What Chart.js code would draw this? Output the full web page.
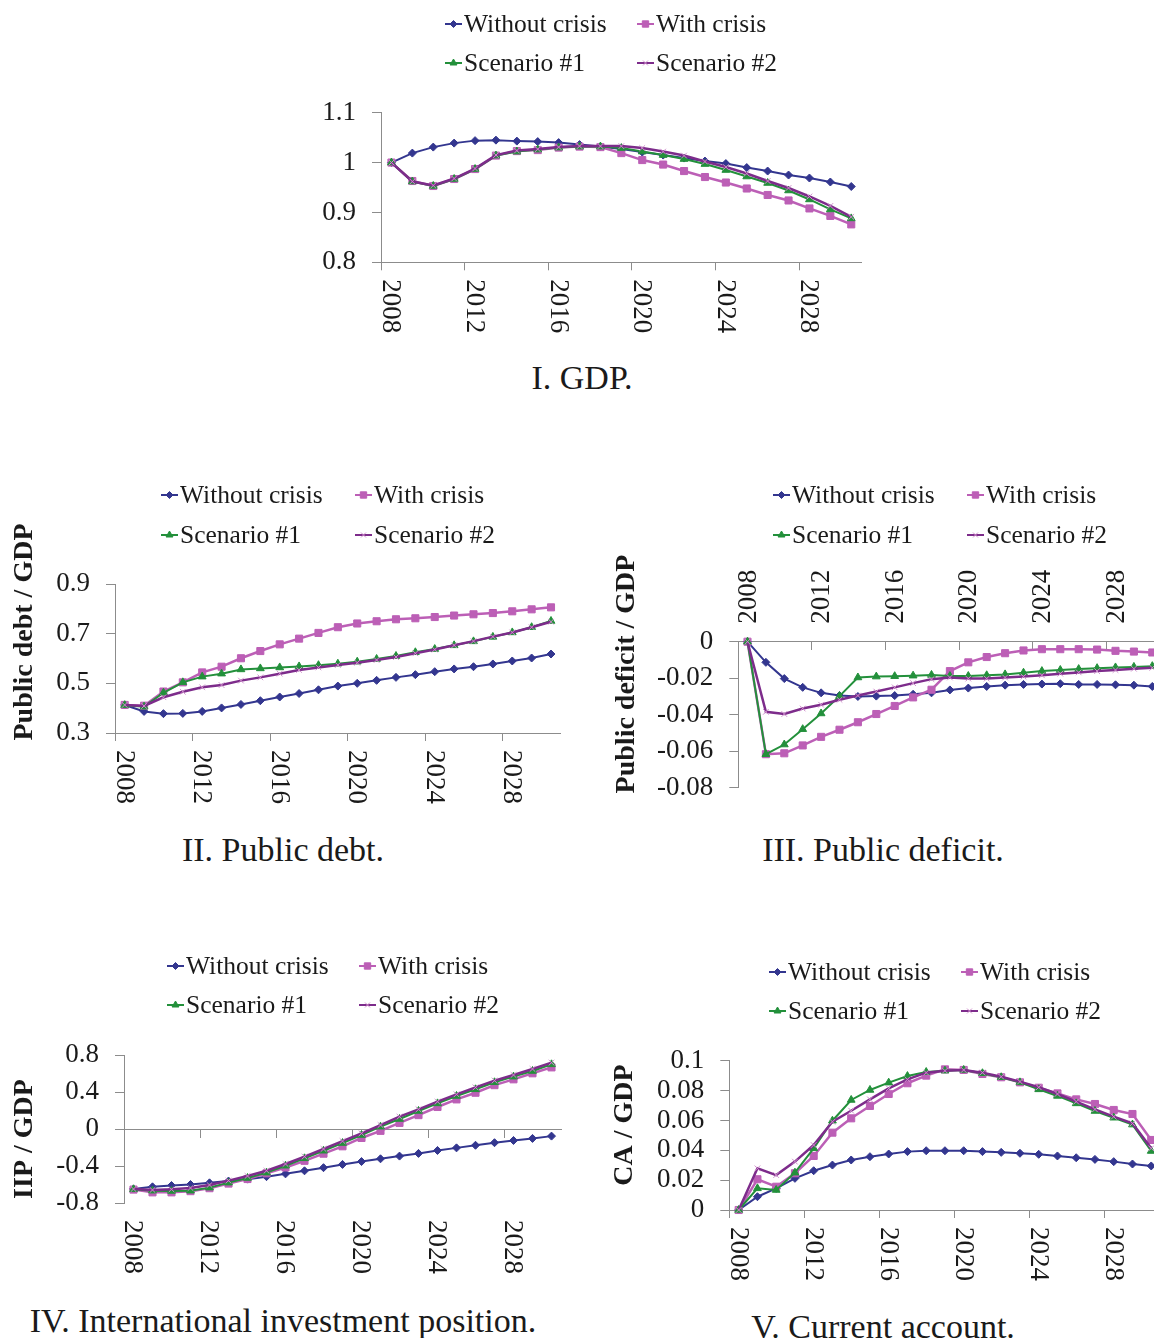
<!DOCTYPE html>
<html><head><meta charset="utf-8">
<script src="https://cdn.jsdelivr.net/npm/chart.js@4.4.1/dist/chart.umd.min.js"></script>
<style>
html,body{margin:0;padding:0;width:1154px;height:1338px;overflow:hidden;background:#fff;}
canvas{position:absolute;}
.ptitle{position:absolute;font-family:"Liberation Serif",serif;font-size:34px;color:#1a1a1a;white-space:nowrap;transform:translate(-50%,-50%);line-height:1;}
</style></head><body>
<div class="ptitle" style="left:582px;top:378px">I. GDP.</div>
<div class="ptitle" style="left:283px;top:850px">II. Public debt.</div>
<div class="ptitle" style="left:883px;top:850px">III. Public deficit.</div>
<div class="ptitle" style="left:283px;top:1321px">IV. International investment position.</div>
<div class="ptitle" style="left:883px;top:1327px">V. Current account.</div>
<canvas id="c1"></canvas><canvas id="c2"></canvas><canvas id="c3"></canvas><canvas id="c4"></canvas><canvas id="c5"></canvas>
<script>
// ---------- data ----------
const years = ['2008','2009','2010','2011','2012','2013','2014','2015','2016','2017','2018','2019','2020','2021','2022','2023','2024','2025','2026','2027','2028','2029','2030'];
const yearStep = 4;
const seriesNames = ['Without crisis','With crisis','Scenario #1','Scenario #2'];

const gdpWithout = [1.000,1.019,1.031,1.039,1.044,1.045,1.043,1.042,1.040,1.036,1.032,1.027,1.021,1.015,1.009,1.003,0.998,0.990,0.983,0.975,0.969,0.961,0.952];
const gdpWith    = [1.000,0.963,0.953,0.967,0.987,1.014,1.023,1.025,1.030,1.032,1.031,1.019,1.005,0.996,0.983,0.971,0.960,0.948,0.935,0.924,0.908,0.893,0.876];
const gdpScen1   = [1.000,0.962,0.953,0.967,0.987,1.014,1.022,1.026,1.030,1.032,1.032,1.029,1.022,1.015,1.007,0.997,0.985,0.972,0.959,0.944,0.926,0.906,0.888];
const gdpScen2   = [1.000,0.962,0.954,0.968,0.988,1.015,1.024,1.027,1.031,1.033,1.033,1.033,1.029,1.022,1.014,1.002,0.991,0.978,0.963,0.949,0.932,0.913,0.891];
const gdpTicks = [0.8,0.9,1,1.1];
const gdpTickLabels = ['0.8','0.9','1','1.1'];

const debtWithout = [0.413,0.387,0.378,0.379,0.387,0.401,0.415,0.430,0.445,0.459,0.474,0.489,0.500,0.512,0.524,0.535,0.547,0.558,0.567,0.578,0.590,0.602,0.618];
const debtWith    = [0.413,0.410,0.467,0.504,0.544,0.567,0.601,0.630,0.657,0.680,0.703,0.726,0.741,0.750,0.758,0.762,0.767,0.773,0.778,0.783,0.790,0.798,0.806];
const debtScen1   = [0.412,0.406,0.462,0.504,0.527,0.539,0.556,0.560,0.564,0.568,0.573,0.579,0.587,0.598,0.610,0.625,0.638,0.653,0.669,0.687,0.705,0.726,0.751];
const debtScen2   = [0.413,0.409,0.444,0.466,0.484,0.493,0.511,0.524,0.539,0.554,0.564,0.574,0.583,0.594,0.606,0.621,0.636,0.653,0.670,0.688,0.705,0.726,0.748];
const debtTicks = [0.3,0.5,0.7,0.9];
const debtTickLabels = ['0.3','0.5','0.7','0.9'];

const defWithout = [0,-0.0113,-0.0202,-0.0250,-0.0280,-0.0295,-0.0300,-0.0298,-0.0295,-0.0288,-0.0280,-0.0264,-0.0254,-0.0245,-0.0238,-0.0234,-0.0232,-0.0230,-0.0234,-0.0234,-0.0236,-0.0238,-0.0245];
const defWith    = [0,-0.0616,-0.0611,-0.0568,-0.0521,-0.0482,-0.0441,-0.0396,-0.0352,-0.0305,-0.0263,-0.0161,-0.0113,-0.0084,-0.0063,-0.0048,-0.0041,-0.0041,-0.0041,-0.0043,-0.0050,-0.0054,-0.0059];
const defScen1   = [0,-0.0616,-0.0563,-0.0479,-0.0393,-0.0298,-0.0196,-0.0191,-0.0189,-0.0186,-0.0182,-0.0188,-0.0188,-0.0184,-0.0179,-0.0170,-0.0161,-0.0155,-0.0150,-0.0145,-0.0141,-0.0138,-0.0134];
const defScen2   = [0,-0.0384,-0.0396,-0.0366,-0.0345,-0.0318,-0.0295,-0.0273,-0.0250,-0.0227,-0.0205,-0.0196,-0.0202,-0.0202,-0.0196,-0.0191,-0.0184,-0.0175,-0.0168,-0.0161,-0.0155,-0.0148,-0.0143];
const defTicks = [-0.08,-0.06,-0.04,-0.02,0];
const defTickLabels = ['-0.08','-0.06','-0.04','-0.02','0'];

const iipWithout = [-0.648,-0.625,-0.611,-0.600,-0.582,-0.563,-0.542,-0.515,-0.485,-0.452,-0.418,-0.383,-0.352,-0.322,-0.293,-0.264,-0.232,-0.204,-0.176,-0.148,-0.124,-0.102,-0.077];
const iipWith    = [-0.655,-0.685,-0.685,-0.672,-0.640,-0.590,-0.541,-0.479,-0.416,-0.344,-0.267,-0.187,-0.097,-0.020,0.066,0.150,0.238,0.320,0.392,0.474,0.537,0.602,0.666];
const iipScen1   = [-0.652,-0.667,-0.670,-0.667,-0.634,-0.580,-0.530,-0.472,-0.397,-0.317,-0.235,-0.152,-0.065,0.025,0.108,0.195,0.277,0.357,0.429,0.505,0.566,0.627,0.699];
const iipScen2   = [-0.649,-0.659,-0.652,-0.638,-0.605,-0.558,-0.508,-0.451,-0.378,-0.299,-0.216,-0.131,-0.047,0.043,0.133,0.213,0.295,0.375,0.450,0.523,0.584,0.649,0.717];
const iipTicks = [-0.8,-0.4,0,0.4,0.8];
const iipTickLabels = ['-0.8','-0.4','0','0.4','0.8'];

const caWithout = [0,0.0089,0.0145,0.0212,0.0263,0.0301,0.0335,0.0357,0.0375,0.0391,0.0397,0.0397,0.0397,0.0391,0.0386,0.0380,0.0373,0.0362,0.0350,0.0339,0.0324,0.0308,0.0295];
const caWith    = [0,0.0206,0.0156,0.0246,0.0362,0.0518,0.0614,0.0697,0.0777,0.0849,0.0900,0.0942,0.0938,0.0911,0.0889,0.0855,0.0819,0.0781,0.0741,0.0710,0.0670,0.0643,0.0469];
const caScen1   = [0,0.0145,0.0134,0.0250,0.0413,0.0598,0.0737,0.0804,0.0853,0.0897,0.0924,0.0933,0.0938,0.0916,0.0889,0.0855,0.0808,0.0764,0.0714,0.0663,0.0618,0.0572,0.0395];
const caScen2   = [0,0.0279,0.0234,0.0324,0.0435,0.0591,0.0665,0.0741,0.0815,0.0875,0.0920,0.0933,0.0938,0.0920,0.0893,0.0860,0.0822,0.0777,0.0726,0.0674,0.0625,0.0580,0.0413];
const caTicks = [0,0.02,0.04,0.06,0.08,0.1];
const caTickLabels = ['0','0.02','0.04','0.06','0.08','0.1'];

// ---------- styles ----------
const TEXT = '#1a1a1a';
const AXIS = '#8c8c8c';
const FONT = '"Liberation Serif", "Times New Roman", serif';
const styles = [
  {color:'#33368f', pointColor:'#33368f', pointStyle:'rectRot', radius:4, lw:2, legR:3.5},
  {color:'#bc5fb6', pointColor:'#bc5fb6', pointStyle:'rect', radius:5, lw:2.5, legR:4.5},
  {color:'#23903b', pointColor:'#23903b', pointStyle:'triangle', radius:4.5, lw:2, legR:4},
  {color:'#7d2c8b', pointColor:'#cf8fcc', pointStyle:'crossRot', radius:4, lw:2.5, legR:3.5}
];

// panel layout (page coordinates)
const panels = [
  {id:'c1', box:[300,0,600,350], area:[381,112.7,861.7,262.3], series:[gdpWithout,gdpWith,gdpScen1,gdpScen2],
   min:0.8, max:1.1, ticks:gdpTicks, tickLabels:gdpTickLabels, xAxis:'bottom', yTitle:null,
   legRows:[24,63], legCols:[445,637]},
  {id:'c2', box:[0,470,580,350], area:[115,584,560.7,733], series:[debtWithout,debtWith,debtScen1,debtScen2],
   min:0.3, max:0.9, ticks:debtTicks, tickLabels:debtTickLabels, xAxis:'bottom', yTitle:{text:'Public debt / GDP', x:25, y:632},
   legRows:[495,535], legCols:[161,355]},
  {id:'c3', box:[600,470,600,350], area:[738.3,641.7,1161.5,791], series:[defWithout,defWith,defScen1,defScen2],
   min:-0.08, max:0, ticks:defTicks, tickLabels:defTickLabels, xAxis:'zeroTop', yTitle:{text:'Public deficit / GDP', x:627, y:674},
   legRows:[495,535], legCols:[773,967]},
  {id:'c4', box:[0,940,580,350], area:[124,1055,561,1203], series:[iipWithout,iipWith,iipScen1,iipScen2],
   min:-0.8, max:0.8, ticks:iipTicks, tickLabels:iipTickLabels, xAxis:'zeroBottom', yTitle:{text:'IIP / GDP', x:25, y:1139},
   legRows:[966,1005], legCols:[167,359]},
  {id:'c5', box:[600,940,600,350], area:[729.3,1060.7,1160.6,1210], series:[caWithout,caWith,caScen1,caScen2],
   min:0, max:0.1, ticks:caTicks, tickLabels:caTickLabels, xAxis:'bottom', yTitle:{text:'CA / GDP', x:625, y:1125},
   legRows:[972,1011], legCols:[769,961]}
];

function drawMarker(ctx, style, x, y, r) {
  const opts = {pointStyle: style.pointStyle, radius: r, rotation: 0, borderWidth: 1};
  ctx.fillStyle = style.pointColor;
  ctx.strokeStyle = style.pointColor;
  ctx.lineWidth = 1;
  Chart.helpers.drawPoint(ctx, opts, x, y);
}

function decorPlugin(p) {
  const ox = p.box[0], oy = p.box[1];
  return {
    id: 'decor_' + p.id,
    afterDraw(chart) {
      const ctx = chart.ctx, ca = chart.chartArea, xs = chart.scales.x;
      ctx.save();
      // year labels
      ctx.font = '27px ' + FONT;
      ctx.fillStyle = TEXT;
      ctx.textBaseline = 'middle';
      years.forEach((yr, i) => {
        if (i % yearStep) return;
        const x = xs.getPixelForValue(i);
        ctx.save();
        if (p.xAxis === 'zeroTop') {
          ctx.translate(x, ca.top - 18);
          ctx.rotate(-Math.PI / 2);
        } else {
          ctx.translate(x, ca.bottom + 17);
          ctx.rotate(Math.PI / 2);
        }
        ctx.textAlign = 'left';
        ctx.fillText(yr, 0, 1);
        ctx.restore();
      });
      // y-axis title
      if (p.yTitle) {
        ctx.save();
        ctx.font = 'bold 28px ' + FONT;
        ctx.fillStyle = TEXT;
        ctx.textAlign = 'center';
        ctx.textBaseline = 'middle';
        ctx.translate(p.yTitle.x - ox, p.yTitle.y - oy);
        ctx.rotate(-Math.PI / 2);
        ctx.fillText(p.yTitle.text, 0, 0);
        ctx.restore();
      }
      // legend (2 x 2 grid)
      ctx.font = '25.5px ' + FONT;
      ctx.textAlign = 'left';
      ctx.textBaseline = 'middle';
      seriesNames.forEach((name, k) => {
        const st = styles[k];
        const lx = p.legCols[k % 2] - ox;
        const ly = p.legRows[Math.floor(k / 2)] - oy;
        ctx.strokeStyle = st.color;
        ctx.lineWidth = 2;
        ctx.beginPath();
        ctx.moveTo(lx, ly);
        ctx.lineTo(lx + 17, ly);
        ctx.stroke();
        drawMarker(ctx, st, lx + 8.5, ly, st.legR);
        ctx.fillStyle = TEXT;
        ctx.fillText(name, lx + 19, ly + 1);
      });
      ctx.restore();
    }
  };
}

panels.forEach(p => {
  const cv = document.getElementById(p.id);
  const [cx, cy, cw, ch] = p.box;
  const [L, T, R, B] = p.area;
  cv.width = cw; cv.height = ch;
  cv.style.left = cx + 'px'; cv.style.top = cy + 'px';
  cv.style.width = cw + 'px'; cv.style.height = ch + 'px';

  const datasets = p.series.map((vals, k) => ({
    label: seriesNames[k],
    data: vals,
    borderColor: styles[k].color,
    backgroundColor: styles[k].pointColor,
    borderWidth: styles[k].lw,
    pointStyle: styles[k].pointStyle,
    pointRadius: styles[k].radius,
    pointBackgroundColor: styles[k].pointColor,
    pointBorderColor: styles[k].pointColor,
    pointBorderWidth: 1,
    tension: 0,
    fill: false,
    clip: false,
    order: 3 - k
  }));

  const xScale = {
    type: 'category',
    offset: true,
    ticks: {display: false},
    grid: {
      offset: true,
      drawOnChartArea: false,
      drawTicks: true,
      tickLength: 8,
      lineWidth: 1,
      color: ctx => (typeof ctx.index === 'number' && ctx.index % yearStep === 0) ? AXIS : 'rgba(0,0,0,0)'
    },
    border: {display: true, color: AXIS, width: 1}
  };
  const padding = {left: 0, right: cx + cw - R, top: T - cy, bottom: 0};
  if (p.xAxis === 'bottom') {
    xScale.position = 'bottom';
    xScale.afterFit = s => { s.height = cy + ch - B; };
  } else {
    xScale.position = {y: 0};
    padding.bottom = cy + ch - B;
  }

  new Chart(cv, {
    type: 'line',
    data: {labels: years, datasets},
    options: {
      responsive: false,
      animation: false,
      events: [],
      devicePixelRatio: 1,
      layout: {padding},
      plugins: {legend: {display: false}, tooltip: {enabled: false}, title: {display: false}},
      scales: {
        x: xScale,
        y: {
          type: 'linear',
          position: 'left',
          min: p.min, max: p.max,
          afterFit: s => { s.width = L - cx; },
          afterBuildTicks: s => { s.ticks = p.ticks.map(v => ({value: v})); },
          ticks: {
            autoSkip: false,
            callback: (v, i) => p.tickLabels[i],
            color: TEXT,
            padding: 16,
            font: {family: FONT, size: 27}
          },
          grid: {drawOnChartArea: false, drawTicks: true, tickLength: 9, color: AXIS, lineWidth: 1},
          border: {display: true, color: AXIS, width: 1}
        }
      }
    },
    plugins: [decorPlugin(p)]
  });
});
</script>
</body></html>
